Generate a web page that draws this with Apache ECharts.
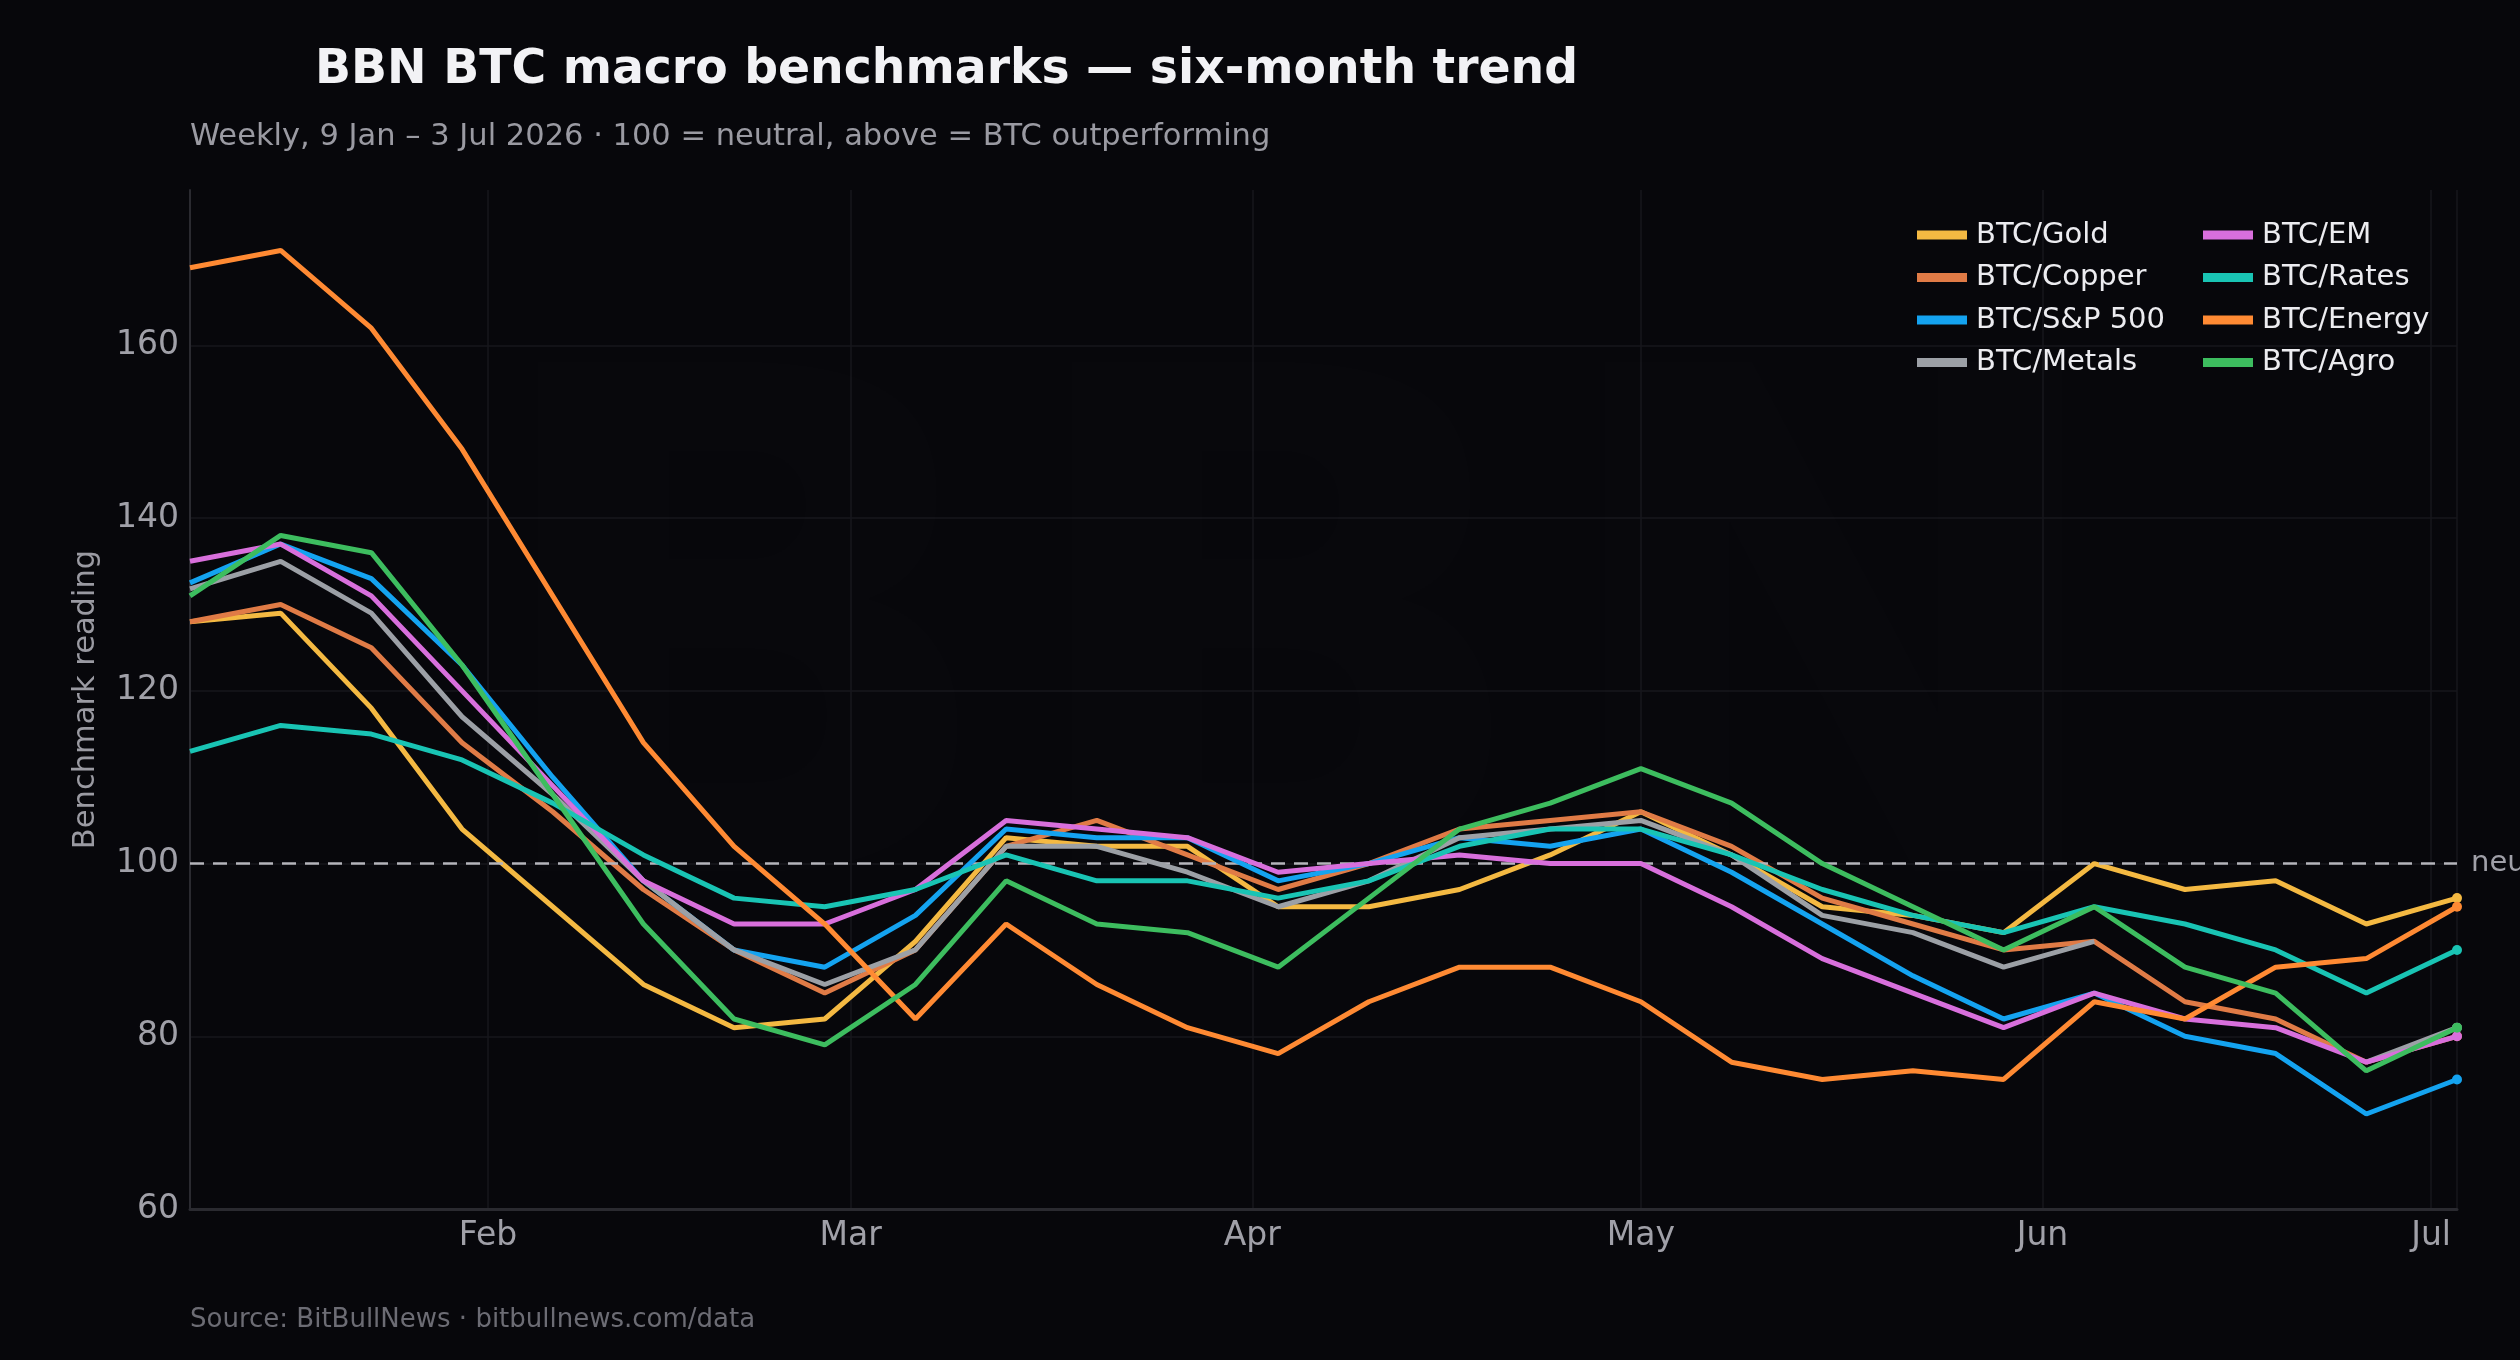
<!DOCTYPE html>
<html lang="en">
<head>
    <meta charset="UTF-8">
    <title>BBN BTC macro benchmarks</title>
    <script src="https://cdn.jsdelivr.net/npm/echarts@6.0.0/dist/echarts.min.js"></script>
    <style>
        html, body { margin: 0; padding: 0; background: #07070b; }
        #chart { width: 2520px; height: 1360px; }
    </style>
</head>
<body>
    <div id="chart"></div>

    <script>
        // weekly readings, 9 Jan - 3 Jul 2026
        var weeks = [
            '2026-01-09', '2026-01-16', '2026-01-23', '2026-01-30', '2026-02-06', '2026-02-13',
            '2026-02-20', '2026-02-27', '2026-03-06', '2026-03-13', '2026-03-20', '2026-03-27',
            '2026-04-03', '2026-04-10', '2026-04-17', '2026-04-24', '2026-05-01', '2026-05-08',
            '2026-05-15', '2026-05-22', '2026-05-29', '2026-06-05', '2026-06-12', '2026-06-19',
            '2026-06-26', '2026-07-03'
        ];

        var gold   = [128, 129, 118, 104, 95, 86, 81, 82, 91, 103, 102, 102, 95, 95, 97, 101, 106, 101, 95, 94, 92, 100, 97, 98, 93, 96];
        var copper = [128, 130, 125, 114, 106, 97, 90, 85, 90, 102, 105, 101, 97, 100, 104, 105, 106, 102, 96, 93, 90, 91, 84, 82, 77, 80];
        var spx    = [132.5, 137, 133, 123, 110, 98, 90, 88, 94, 104, 103, 103, 98, 100, 103, 102, 104, 99, 93, 87, 82, 85, 80, 78, 71, 75];
        var metals = [131.8, 135, 129, 117, 108, 98, 90, 86, 90, 102, 102, 99, 95, 98, 103, 104, 105, 101, 94, 92, 88, 91, null, null, 77, 81];
        var em     = [135, 137, 131, 120, 109, 98, 93, 93, 97, 105, 104, 103, 99, 100, 101, 100, 100, 95, 89, 85, 81, 85, 82, 81, 77, 80];
        var rates  = [113, 116, 115, 112, 107, 101, 96, 95, 97, 101, 98, 98, 96, 98, 102, 104, 104, 101, 97, 94, 92, 95, 93, 90, 85, 90];
        var energy = [169, 171, 162, 148, 131, 114, 102, 93, 82, 93, 86, 81, 78, 84, 88, 88, 84, 77, 75, 76, 75, 84, 82, 88, 89, 95];
        var agro   = [131, 138, 136, 123, 108, 93, 82, 79, 86, 98, 93, 92, 88, 96, 104, 107, 111, 107, 100, 95, 90, 95, 88, 85, 76, 81];

        var names  = ['BTC/Gold', 'BTC/Copper', 'BTC/S&P 500', 'BTC/Metals', 'BTC/EM', 'BTC/Rates', 'BTC/Energy', 'BTC/Agro'];
        var values = [gold, copper, spx, metals, em, rates, energy, agro];
        var colors = ['#f4b942', '#e07b46', '#14a3f0', '#9ca0a6', '#d86fdc', '#19c4b4', '#ff8a33', '#3dbd5f'];

        var FONT = '"DejaVu Sans", sans-serif';
        var last = weeks.length - 1;

        var series = names.map(function (name, i) {
            var data = weeks.map(function (d, j) {
                var v = values[i][j];
                if (j === last) {
                    return { value: [d, v], symbol: 'circle', symbolSize: 10 };
                }
                return [d, v];
            });
            var s = {
                name: name,
                type: 'line',
                data: data,
                symbol: 'none',
                showSymbol: true,
                connectNulls: false,
                color: colors[i],
                lineStyle: { width: 5, color: colors[i] },
                itemStyle: { color: colors[i] },
                emphasis: { disabled: true },
                z: 3 + i
            };
            if (i === 0) {
                s.markLine = {
                    silent: true,
                    symbol: 'none',
                    lineStyle: { color: '#b4b4ba', width: 2.5, type: [14, 9] },
                    label: {
                        position: 'end', formatter: 'neutral', distance: 14,
                        color: '#a0a0a8', fontSize: 29, fontFamily: FONT
                    },
                    data: [{ yAxis: 100 }]
                };
            }
            return s;
        });

        var chart = echarts.init(document.getElementById('chart'), null, { renderer: 'canvas' });

        chart.setOption({
            backgroundColor: '#07070b',
            animation: false,
            textStyle: { fontFamily: FONT },
            title: [
                {
                    text: 'BBN BTC macro benchmarks — six-month trend',
                    left: 310, top: 42,
                    textStyle: { color: '#f2f2f5', fontSize: 47.3, fontWeight: 'bold', fontFamily: FONT }
                },
                {
                    text: 'Weekly, 9 Jan – 3 Jul 2026 · 100 = neutral, above = BTC outperforming',
                    left: 185, top: 117,
                    textStyle: { color: '#9a9aa2', fontSize: 30.5, fontWeight: 'normal', fontFamily: FONT }
                },
                {
                    text: 'Source: BitBullNews · bitbullnews.com/data',
                    left: 185, top: 1302,
                    textStyle: { color: '#6c6c74', fontSize: 26, fontWeight: 'normal', fontFamily: FONT }
                }
            ],
            graphic: [{
                type: 'text',
                z: -10,
                style: {
                    text: 'BBN',
                    x: 1300, y: 690,
                    align: 'center', verticalAlign: 'middle',
                    font: 'bold 700px "DejaVu Sans", sans-serif',
                    fill: 'rgba(255,255,255,0.009)'
                }
            }],
            legend: [
                {
                    data: names.slice(0, 4),
                    orient: 'vertical', left: 1912, top: 213,
                    icon: 'rect', itemWidth: 50, itemHeight: 9, itemGap: 8.5,
                    textStyle: { color: '#ececf0', fontSize: 29, lineHeight: 34, fontFamily: FONT, padding: [0, 0, 0, 4] }
                },
                {
                    data: names.slice(4),
                    orient: 'vertical', left: 2198, top: 213,
                    icon: 'rect', itemWidth: 50, itemHeight: 9, itemGap: 8.5,
                    textStyle: { color: '#ececf0', fontSize: 29, lineHeight: 34, fontFamily: FONT, padding: [0, 0, 0, 4] }
                }
            ],
            grid: { left: 190, right: 63, top: 190, bottom: 151 },
            xAxis: {
                type: 'time',
                min: '2026-01-09',
                max: '2026-07-03',
                minInterval: 28 * 24 * 3600 * 1000,
                splitNumber: 6,
                axisLine: { lineStyle: { color: '#2a2a30', width: 3 } },
                axisTick: { show: false },
                axisLabel: {
                    formatter: '{MMM}', color: '#a0a0a8', fontSize: 33, margin: 11,
                    fontFamily: FONT, hideOverlap: false
                },
                splitLine: { show: true, lineStyle: { color: '#17171c', width: 1.5 } }
            },
            yAxis: {
                type: 'value',
                min: 60, max: 178, interval: 20,
                name: 'Benchmark reading',
                nameLocation: 'middle', nameGap: 88, nameRotate: 90,
                nameTextStyle: { color: '#9a9aa2', fontSize: 30.5, fontFamily: FONT },
                axisLine: { show: true, lineStyle: { color: '#2a2a30', width: 2 } },
                axisTick: { show: false },
                axisLabel: { color: '#a0a0a8', fontSize: 33, margin: 11, showMaxLabel: false, fontFamily: FONT },
                splitLine: { show: true, showMaxLine: false, lineStyle: { color: '#17171c', width: 1.5 } }
            },
            series: series
        });
    </script>
</body>
</html>
